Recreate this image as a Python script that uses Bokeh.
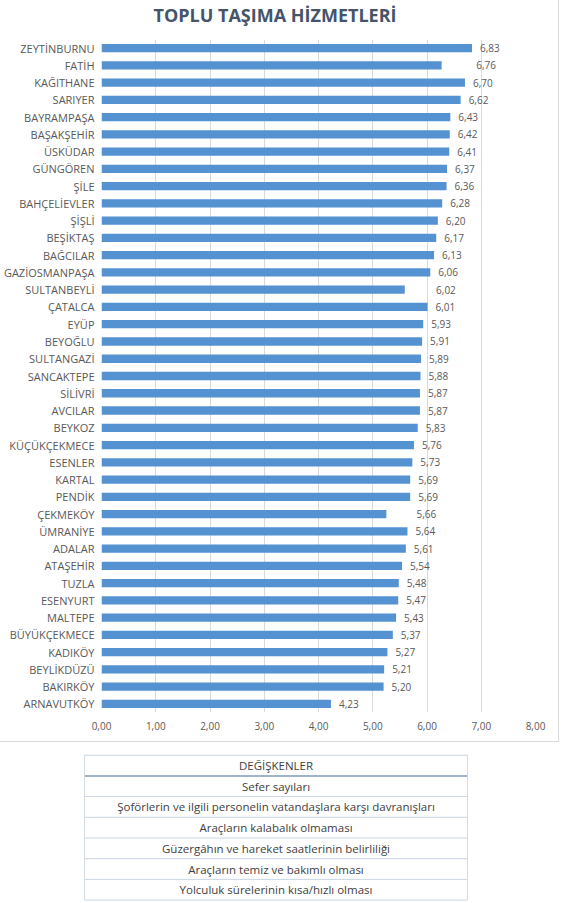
from bokeh.plotting import figure
from bokeh.models import Range1d, FactorRange, FixedTicker, ColumnDataSource, Title
from bokeh.layouts import column, row
from bokeh.embed import file_html
from bokeh.resources import INLINE

title_text = "TOPLU TAŞIMA HİZMETLERİ"

districts = ["ZEYTİNBURNU", "FATİH", "KAĞITHANE", "SARIYER", "BAYRAMPAŞA", "BAŞAKŞEHİR",
             "ÜSKÜDAR", "GÜNGÖREN", "ŞİLE", "BAHÇELİEVLER", "ŞİŞLİ", "BEŞİKTAŞ", "BAĞCILAR",
             "GAZİOSMANPAŞA", "SULTANBEYLİ", "ÇATALCA", "EYÜP", "BEYOĞLU", "SULTANGAZİ",
             "SANCAKTEPE", "SİLİVRİ", "AVCILAR", "BEYKOZ", "KÜÇÜKÇEKMECE", "ESENLER", "KARTAL",
             "PENDİK", "ÇEKMEKÖY", "ÜMRANİYE", "ADALAR", "ATAŞEHİR", "TUZLA", "ESENYURT",
             "MALTEPE", "BÜYÜKÇEKMECE", "KADIKÖY", "BEYLİKDÜZÜ", "BAKIRKÖY", "ARNAVUTKÖY"]

# printed value labels
scores = [6.83, 6.76, 6.70, 6.62, 6.43, 6.42, 6.41, 6.37, 6.36, 6.28, 6.20, 6.17, 6.13,
          6.06, 6.02, 6.01, 5.93, 5.91, 5.89, 5.88, 5.87, 5.87, 5.83, 5.76, 5.73, 5.69,
          5.69, 5.66, 5.64, 5.61, 5.54, 5.48, 5.47, 5.43, 5.37, 5.27, 5.21, 5.20, 4.23]

# bar lengths as drawn in the picture
bar_lengths = [6.83, 6.27, 6.70, 6.62, 6.43, 6.42, 6.41, 6.37, 6.36, 6.28, 6.20, 6.17, 6.13,
               6.06, 5.59, 6.01, 5.93, 5.91, 5.89, 5.88, 5.87, 5.87, 5.83, 5.76, 5.73, 5.69,
               5.69, 5.25, 5.64, 5.61, 5.54, 5.48, 5.47, 5.43, 5.37, 5.27, 5.21, 5.20, 4.23]

x_ticks = [0, 1, 2, 3, 4, 5, 6, 7, 8]
x_tick_labels = ["0,00", "1,00", "2,00", "3,00", "4,00", "5,00", "6,00", "7,00", "8,00"]

table_header = "DEĞİŞKENLER"
table_rows = ["Sefer sayıları",
              "Şoförlerin ve ilgili personelin vatandaşlara karşı davranışları",
              "Araçların kalabalık olmaması",
              "Güzergâhın ve hareket saatlerinin belirliliği",
              "Araçların temiz ve bakımlı olması",
              "Yolculuk sürelerinin kısa/hızlı olması"]

FONT = "Open Sans"
GREY = "#595959"

src = ColumnDataSource(dict(
    district=districts,
    length=bar_lengths,
    score=scores,
    label=[f"{v:.2f}".replace(".", ",") for v in scores],
))

p = figure(width=559, height=742, title=None,
           y_range=FactorRange(factors=list(reversed(districts)), range_padding=0),
           x_range=Range1d(0, 8),
           toolbar_location=None, output_backend="svg",
           min_border_left=100, min_border_right=24, min_border_top=38, min_border_bottom=30)

# empty spacer between the frame and the title
p.add_layout(Title(text=" ", text_font_size="10px", standoff=0), "above")
p.add_layout(Title(text=title_text, align="left", offset=52, text_font=FONT,
                   text_font_size="18px", text_font_style="bold", text_color="#44546a",
                   standoff=0), "above")

p.hbar(y="district", right="length", left=0, height=0.48, source=src,
       fill_color="#5592d2", line_color=None)

p.text(x="score", y="district", text="label", source=src, x_offset=8,
       text_align="left", text_baseline="middle", text_font_size="10px",
       text_color=GREY, text_font={"value": FONT})

p.xaxis.ticker = FixedTicker(ticks=x_ticks)
p.xaxis.major_label_overrides = {t: l for t, l in zip(x_ticks, x_tick_labels)}
p.xaxis.axis_line_color = None
p.xaxis.major_tick_line_color = None
p.xaxis.minor_tick_line_color = None
p.xaxis.major_tick_out = 0
p.xaxis.major_tick_in = 0
p.xaxis.minor_tick_out = 0
p.xaxis.major_label_standoff = 9
p.xaxis.major_label_text_font = FONT
p.xaxis.major_label_text_font_size = "10px"
p.xaxis.major_label_text_color = GREY

p.yaxis.axis_line_color = None
p.yaxis.major_tick_line_color = None
p.yaxis.major_tick_out = 0
p.yaxis.major_tick_in = 0
p.yaxis.major_label_standoff = 7
p.yaxis.major_label_text_font = FONT
p.yaxis.major_label_text_font_size = "11px"
p.yaxis.major_label_text_color = GREY

p.xgrid.grid_line_color = "#d9d9d9"
p.ygrid.grid_line_color = None
p.outline_line_color = None
p.styles = {"border-right": "1px solid #d9d9d9", "border-bottom": "1px solid #d9d9d9"}

# ---- variables table ----
n = len(table_rows) + 1
row_h = 20.7
t_height = 160
t_top = 12.7
t = figure(width=559, height=t_height, x_range=Range1d(0, 559),
           y_range=Range1d((t_height - t_top) / row_h, -t_top / row_h),
           toolbar_location=None, output_backend="svg", min_border=0)
t.axis.visible = False
t.grid.visible = False
t.outline_line_color = None

tx0, tx1 = 84, 467
line_y = list(range(n + 1))
line_colors = ["#c9d4de"] + ["#9fb4c6"] + ["#c9d6e2"] * (n - 1)
line_widths = [1, 2] + [1] * (n - 1)
t.segment(x0=[tx0] * len(line_y), x1=[tx1] * len(line_y), y0=line_y, y1=line_y,
          line_color=line_colors, line_width=line_widths)
t.segment(x0=[tx0, tx1], x1=[tx0, tx1], y0=[0, 0], y1=[n, n], line_color="#d3dbe3", line_width=1)

texts = [table_header] + table_rows
t.text(x=[(tx0 + tx1) / 2] * n, y=[i + 0.5 for i in range(n)], text=texts,
       text_align="center", text_baseline="middle", text_font_size="11.5px",
       text_color="#404040", text_font={"value": FONT})

layout = column(p, row(t), spacing=0)
open("out.html", "w").write(file_html(layout, INLINE))
